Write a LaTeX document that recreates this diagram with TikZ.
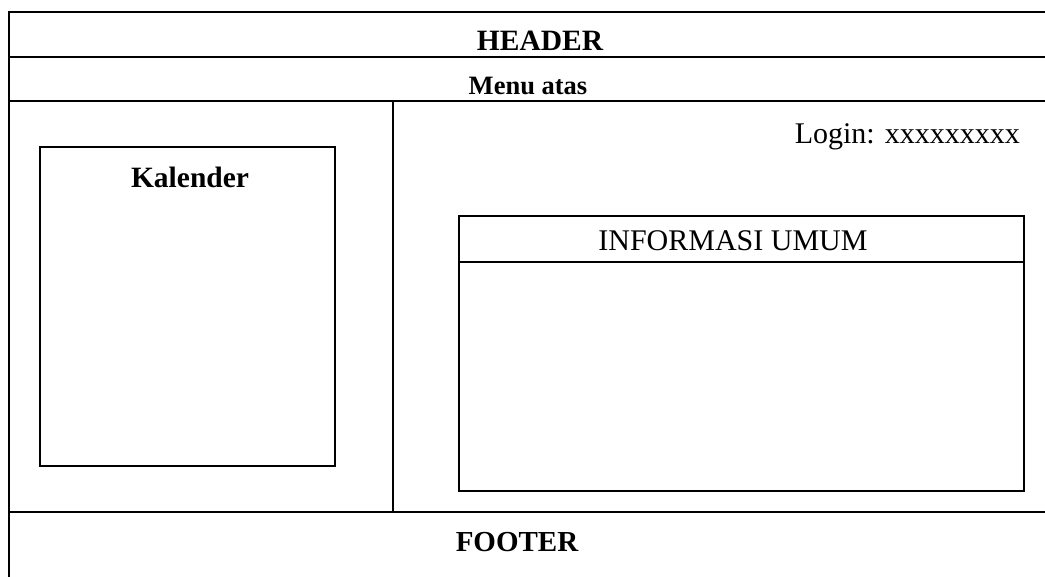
\documentclass[tikz,border=0pt]{standalone}
\usepackage{fontspec}
\setmainfont{Liberation Serif}
\begin{document}
\begin{tikzpicture}[x=1pt,y=-1pt,
  frameline/.style={line width=1.8pt},
  boxline/.style={line width=1.6pt},
  panel/.style={draw,line width=1.6pt,inner sep=0pt},
  boldlbl/.style={anchor=base,inner sep=0pt,font=\bfseries\fontsize{28}{32}\selectfont},
  plainlbl/.style={anchor=base,inner sep=0pt,font=\fontsize{30}{34}\selectfont}]
\useasboundingbox (0,0) rectangle (1045,577);
% frame coordinates
\coordinate (tl) at (9,12);
\coordinate (tr) at (1045,12);
\coordinate (bl) at (9,577);
\coordinate (h1l) at (9,57);
\coordinate (h1r) at (1045,57);
\coordinate (h2l) at (9,101);
\coordinate (h2r) at (1045,101);
\coordinate (fl) at (9,512);
\coordinate (fr) at (1045,512);
\coordinate (dt) at (393,101);
\coordinate (db) at (393,512);
\draw[frameline] (tr) -- (tl) -- (bl);
\draw[frameline] (h1l) -- (h1r);
\draw[frameline] (h2l) -- (h2r);
\draw[frameline] (fl) -- (fr);
\draw[boxline] (dt) -- (db);
% texts
\node[boldlbl,font=\bfseries\fontsize{29.5}{33}\selectfont] (header) at (540,51) {HEADER};
\node[boldlbl,font=\bfseries\fontsize{26.5}{30}\selectfont] (menu) at (528,95) {Menu atas};
\node[plainlbl,anchor=base east] (login) at (1020,144) {Login: xxxxxxxxx};
\node[boldlbl,font=\bfseries\fontsize{29}{33}\selectfont] (footer) at (517,551) {FOOTER};
% Kalender box
\node[panel,minimum width=295pt,minimum height=319pt] (kal) at (187.5,306.5) {};
\node[boldlbl,font=\bfseries\fontsize{29.5}{33}\selectfont] (kallbl) at (190,188) {Kalender};
% Informasi umum box
\node[panel,minimum width=565pt,minimum height=275pt] (info) at (741.5,353.5) {};
\coordinate (infol) at (459,262);
\coordinate (infor) at (1024,262);
\draw[boxline] (infol) -- (infor);
\node[plainlbl] (infolbl) at (733,251) {INFORMASI UMUM};
\end{tikzpicture}
\end{document}
